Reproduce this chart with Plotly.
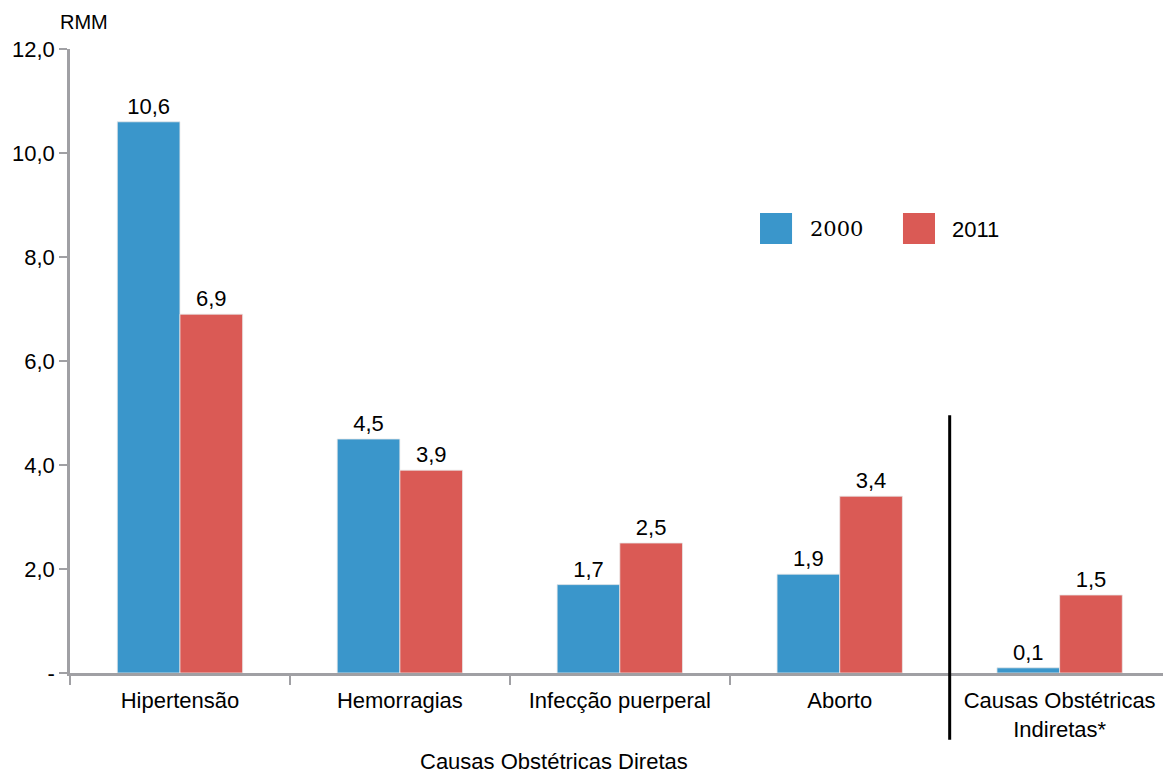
import plotly.graph_objects as go

categories = ["Hipertensão", "Hemorragias", "Infecção puerperal", "Aborto", "Causas Obstétricas<br>Indiretas*"]
values_2000 = [10.6, 4.5, 1.7, 1.9, 0.1]
values_2011 = [6.9, 3.9, 2.5, 3.4, 1.5]
series_names = ["2000", "2011"]
ytick_vals = [0, 2, 4, 6, 8, 10, 12]
ytick_text = ["-", "2,0", "4,0", "6,0", "8,0", "10,0", "12,0"]

BLUE = "#3A96CB"
RED = "#DA5A55"
FONT = "Liberation Sans"
FS = 22

def fmt(v):
    return f"{v:.1f}".replace(".", ",")

fig = go.Figure()
for name, vals, col in [(series_names[0], values_2000, BLUE), (series_names[1], values_2011, RED)]:
    fig.add_trace(go.Bar(
        x=categories, y=vals, name=name,
        marker=dict(color=col, line=dict(color="#E8E8E8", width=0.8)),
        text=[fmt(v) for v in vals], textposition="outside",
        textfont=dict(family=FONT, size=FS, color="black"),
        cliponaxis=False,
        showlegend=False,
    ))

fig.update_layout(
    width=1163, height=773,
    margin=dict(l=70, r=0, t=49, b=100),
    paper_bgcolor="white", plot_bgcolor="white",
    barmode="group", bargap=0.43, bargroupgap=0,
    font=dict(family=FONT, size=FS, color="black"),
    showlegend=False,
)
fig.update_xaxes(
    range=[-0.5, 4.47], showline=True, linecolor="#A0A0A4", linewidth=2.5,
    ticks="outside", tickson="boundaries", ticklen=9, tickwidth=2, tickcolor="#A0A0A4",
    ticklabelstandoff=6,
    tickfont=dict(family=FONT, size=FS, color="black"), showgrid=False,
)
fig.update_yaxes(
    range=[0, 12], showline=True, linecolor="#A0A0A4", linewidth=2.5,
    ticks="outside", ticklen=8, tickwidth=2, tickcolor="#A0A0A4",
    tickvals=ytick_vals, ticktext=ytick_text,
    tickfont=dict(family=FONT, size=FS, color="black"), showgrid=False, zeroline=False,
)

# separator line between direct and indirect causes
fig.add_shape(type="line", xref="x", yref="paper", x0=3.5, x1=3.5, y0=-0.107, y1=0.413,
              line=dict(color="black", width=3))

# custom legend
fig.add_shape(type="rect", xref="paper", yref="paper", x0=0.6313, x1=0.6606, y0=0.6875, y1=0.7372,
              fillcolor=BLUE, line=dict(width=0))
fig.add_shape(type="rect", xref="paper", yref="paper", x0=0.7621, x1=0.7914, y0=0.6875, y1=0.7372,
              fillcolor=RED, line=dict(width=0))
fig.add_annotation(xref="paper", yref="paper", x=0.6752, y=0.7115, text=series_names[0],
                   showarrow=False, xanchor="left", yanchor="middle",
                   font=dict(family="DejaVu Serif", size=21, color="black"))
fig.add_annotation(xref="paper", yref="paper", x=0.8051, y=0.7115, text=series_names[1],
                   showarrow=False, xanchor="left", yanchor="middle",
                   font=dict(family=FONT, size=FS, color="black"))

# axis titles
fig.add_annotation(xref="paper", yref="paper", x=-0.011, y=1.0433, text="RMM",
                   showarrow=False, xanchor="left", yanchor="middle",
                   font=dict(family=FONT, size=20, color="black"))
fig.add_annotation(xref="x", yref="paper", x=1.7, y=-0.1426, text="Causas Obstétricas Diretas",
                   showarrow=False, xanchor="center", yanchor="middle",
                   font=dict(family=FONT, size=FS, color="black"))

fig.write_html("out.html")
